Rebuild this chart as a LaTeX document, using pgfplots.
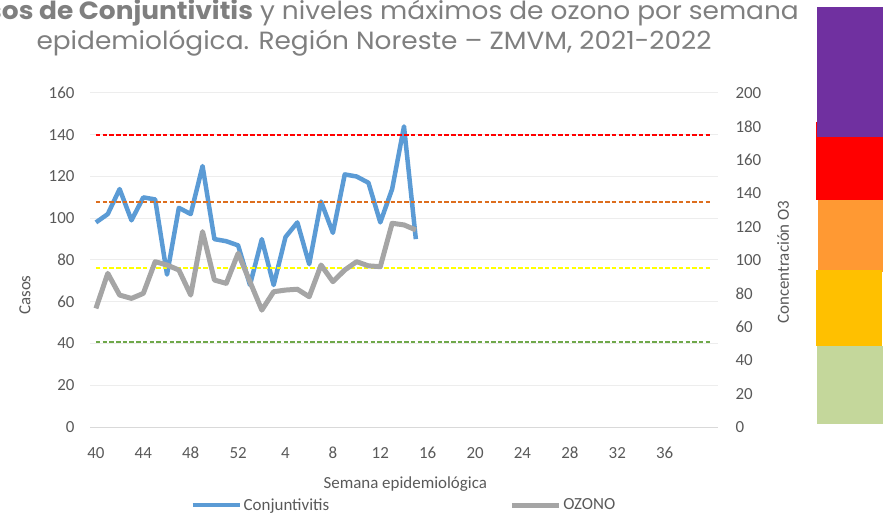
\documentclass[border=0pt]{standalone}
\usepackage{fontspec}
\setmainfont{Carlito}
\newfontfamily\titlefont[FakeStretch=1.06]{Poppins}
\usepackage{pgfplots}
\usepackage{pgfplotstable}
\pgfplotsset{compat=1.18}
\definecolor{cblue}{HTML}{5B9BD5}
\definecolor{cgray}{HTML}{A5A5A5}
\definecolor{tickgray}{HTML}{595959}
\definecolor{titlegray}{HTML}{7F7F7F}
\definecolor{gridgray}{HTML}{EDEDED}
\definecolor{axisgray}{HTML}{D9D9D9}
\definecolor{thorange}{HTML}{DD6E1E}
\definecolor{thyellow}{HTML}{FFFF00}
\definecolor{thgreen}{HTML}{6FA84A}
\definecolor{bpurple}{HTML}{7030A0}
\definecolor{bred}{HTML}{FF0000}
\definecolor{borange}{HTML}{FF9933}
\definecolor{byellow}{HTML}{FFC000}
\definecolor{bgreen}{HTML}{C4D79B}

\pgfplotstableread{
idx casos ozono
0 98 71
1 102 92
2 114 79
3 99 77
4 110 80
5 109 99
6 73 97
7 105 94
8 102 79
9 125 117
10 90 88
11 89 86
12 87 104
13 68 87
14 90 70
15 68 81
16 91 82
17 98 82.5
18 78 78
19 108 97
20 93 87
21 121 94
22 120 99
23 117 96.5
24 98 96
25 114 122
26 144 121
27 90 118
}\datatable

\begin{document}
\begin{tikzpicture}
\path[use as bounding box] (0,0) rectangle (887bp,517bp);
\clip (0,0) rectangle (887bp,517bp);

% colour boxes
\fill[bred] (816bp,317bp) rectangle (883bp,395bp);
\fill[bpurple] (817bp,380bp) rectangle (883bp,510bp);
\fill[borange] (818bp,245bp) rectangle (883bp,317bp);
\fill[byellow] (816bp,171bp) rectangle (882bp,247bp);
\fill[bgreen] (817bp,93bp) rectangle (883bp,171bp);

% title
\node[anchor=base, text=titlegray, font=\titlefont\fontsize{25}{30}\selectfont, inner sep=0] at (374bp,497bp)
  {\textbf{Casos de Conjuntivitis} y niveles máximos de ozono por semana};
\node[anchor=base, text=titlegray, font=\titlefont\fontsize{25}{30}\selectfont, inner sep=0] at (374bp,467bp)
  {epidemiológica. Región Noreste – ZMVM, 2021-2022};

\pgfplotsset{
  common/.style={
    at={(90bp,90bp)}, anchor=south west, scale only axis,
    width=628bp, height=334bp,
    xmin=-0.5, xmax=52.5,
    tick style={draw=none}, major tick length=0pt,
    /pgf/number format/assume math mode=true,
    ticklabel style={font=\fontsize{17}{20}\selectfont, text=tickgray},
    label style={font=\fontsize{17}{20}\selectfont, text=tickgray},
  }
}

\begin{axis}[common,
  ymin=0, ymax=160, ytick={0,20,...,160},
  axis y line*=left, axis x line*=bottom,
  y axis line style={draw=none},
  x axis line style={draw=axisgray, line width=1bp},
  xtick={0,4,...,48},
  xticklabels={40,44,48,52,4,8,12,16,20,24,28,32,36},
  xticklabel style={anchor=base, yshift=-31bp},
  yticklabel style={xshift=-12bp},
  ymajorgrids, grid style={gridgray, line width=1bp},
  xlabel={Semana epidemiológica},
  xlabel style={at={(axis description cs:0.502,-0.171)}, anchor=center},
  ylabel={Casos},
  ylabel style={at={(axis description cs:-0.1035,0.395)}, anchor=center},
]
\addplot[cblue, line width=4.5bp, line join=round] table[x=idx, y=casos] {\datatable};
\end{axis}

\begin{axis}[common,
  ymin=0, ymax=200, ytick={0,20,...,200},
  axis y line*=right, axis x line=none,
  y axis line style={draw=none},
  xtick=\empty,
  yticklabel style={xshift=14bp},
  ylabel={Concentración O3},
  ylabel style={at={(axis description cs:1.1035,0.494)}, anchor=center},
  legend columns=2,
  legend style={at={(axis description cs:0.5,-0.234)}, anchor=center, draw=none, fill=none,
    font=\fontsize{17}{20}\selectfont, text=tickgray, inner sep=0pt,
    /tikz/every even column/.append style={column sep=178bp}},
  legend image code/.code={\draw[#1] (0bp,0bp) -- (47bp,0bp);},
  legend cell align=left,
]
\addplot[bred, line width=2bp, dash pattern=on 4.5bp off 2.2bp, forget plot] coordinates {(0,175) (52,175)};
\addplot[thorange, line width=2bp, dash pattern=on 4.5bp off 2.2bp, forget plot] coordinates {(0,135) (52,135)};
\addplot[thyellow, line width=2bp, dash pattern=on 4.5bp off 2.2bp, forget plot] coordinates {(0,95) (52,95)};
\addplot[thgreen, line width=2bp, dash pattern=on 4.5bp off 2.2bp, forget plot] coordinates {(0,51) (52,51)};
\addlegendimage{cblue, line width=4bp}
\addlegendentry{Conjuntivitis}
\addplot[cgray, line width=5bp, line join=round] table[x=idx, y=ozono] {\datatable};
\addlegendentry{OZONO}
\end{axis}
\end{tikzpicture}
\end{document}
